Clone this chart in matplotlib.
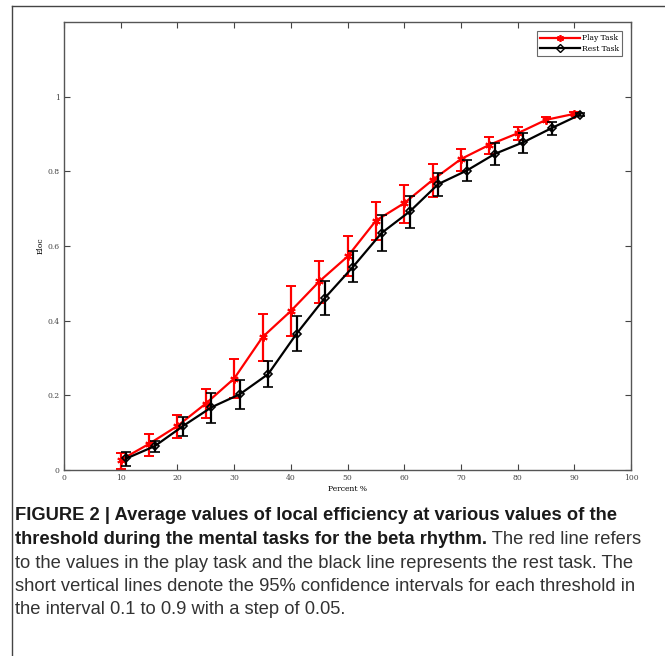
"""Local efficiency vs. threshold (beta rhythm), play vs. rest task."""

import matplotlib.pyplot as plt
from matplotlib.lines import Line2D

# Play task (red): thresholds in percent, mean Eloc and 95% CI bounds
play_x = [10, 15, 20, 25, 30, 35, 40, 45, 50, 55, 60, 65, 70, 75, 80, 85, 90]
play_y = [0.027, 0.070, 0.118, 0.178, 0.245, 0.356, 0.426, 0.505, 0.572,
          0.668, 0.715, 0.777, 0.833, 0.871, 0.902, 0.938, 0.954]
play_hi = [0.045, 0.096, 0.147, 0.218, 0.297, 0.417, 0.493, 0.560, 0.626,
           0.717, 0.764, 0.820, 0.860, 0.893, 0.920, 0.945, 0.958]
play_lo = [0.004, 0.038, 0.087, 0.138, 0.192, 0.292, 0.358, 0.448, 0.519,
           0.617, 0.662, 0.731, 0.802, 0.847, 0.884, 0.931, 0.950]

# Rest task (black), plotted slightly offset to the right
rest_x = [11, 16, 21, 26, 31, 36, 41, 46, 51, 56, 61, 66, 71, 76, 81, 86, 91]
rest_y = [0.031, 0.064, 0.118, 0.168, 0.203, 0.257, 0.365, 0.461, 0.545,
          0.635, 0.693, 0.766, 0.802, 0.847, 0.878, 0.916, 0.952]
rest_hi = [0.049, 0.078, 0.143, 0.207, 0.242, 0.291, 0.412, 0.506, 0.586,
           0.683, 0.735, 0.796, 0.829, 0.876, 0.903, 0.933, 0.957]
rest_lo = [0.012, 0.049, 0.091, 0.127, 0.163, 0.223, 0.319, 0.416, 0.504,
           0.586, 0.649, 0.733, 0.773, 0.816, 0.848, 0.898, 0.947]

x_ticks = list(range(0, 101, 10))
y_ticks = [0, 0.2, 0.4, 0.6, 0.8, 1]

caption_bold_1 = "FIGURE 2 | Average values of local efficiency at various values of the"
caption_bold_2 = "threshold during the mental tasks for the beta rhythm."
caption_rest_2 = " The red line refers"
caption_lines = [
    "to the values in the play task and the black line represents the rest task. The",
    "short vertical lines denote the 95% confidence intervals for each threshold in",
    "the interval 0.1 to 0.9 with a step of 0.05.",
]

ASTERISK = (6, 2, 0)
CAP_SIZE = 13.2


def errs(y, lo, hi):
    return [[a - b for a, b in zip(y, lo)], [c - a for a, c in zip(y, hi)]]


fig = plt.figure(figsize=(6.65, 6.56), dpi=100)
ax = fig.add_axes([0.0962, 0.2835, 0.853, 0.683])

ax.errorbar(play_x, play_y, yerr=errs(play_y, play_lo, play_hi),
            color="#ff0000", lw=1.6, elinewidth=1.6, capsize=3.4, capthick=1.6,
            marker=ASTERISK, markersize=6, mew=1.4, zorder=2)
ax.errorbar(rest_x, rest_y, yerr=errs(rest_y, rest_lo, rest_hi),
            color="black", lw=1.6, elinewidth=1.6, capsize=3.4, capthick=1.6,
            marker="D", markersize=4.5, mfc="none", mew=1.2, zorder=3)

ax.set_xlim(0, 100)
ax.set_ylim(0, 1.2)
ax.set_xticks(x_ticks)
ax.set_yticks(y_ticks)
ax.set_yticklabels([f"{v:g}" for v in y_ticks])
ax.tick_params(direction="in", length=4, width=0.8, colors="#444444",
               labelsize=5.5, top=True, right=True, pad=3)
for lab in ax.get_xticklabels() + ax.get_yticklabels():
    lab.set_family("DejaVu Serif")
for sp in ax.spines.values():
    sp.set_color("#555555")
    sp.set_linewidth(1.0)
ax.set_xlabel("Percent %", fontsize=5.5, family="DejaVu Serif", labelpad=2)
ax.set_ylabel("Eloc", fontsize=5.5, family="DejaVu Serif", labelpad=2)

handles = [
    Line2D([], [], color="#ff0000", lw=1.6, marker=ASTERISK, markersize=5, mew=1.2),
    Line2D([], [], color="black", lw=1.6, marker="D", markersize=4, mfc="none", mew=1.0),
]
leg = ax.legend(handles, ["Play Task", "Rest Task"], loc="upper right",
                handlelength=5.2, handletextpad=0.2,
                borderpad=0.4, labelspacing=0.3, fancybox=False,
                bbox_to_anchor=(0.99, 0.988),
                prop={"family": "DejaVu Serif", "size": 5.5})
leg.get_frame().set_edgecolor("#444444")
leg.get_frame().set_linewidth(0.8)

# frame around figure and caption
fig.add_artist(Line2D([12 / 665, 1.0], [1 - 6 / 656, 1 - 6 / 656],
                      color="#444444", lw=1.0, transform=fig.transFigure))
fig.add_artist(Line2D([12 / 665, 12 / 665], [1 - 6 / 656, 0.0],
                      color="#444444", lw=1.0, transform=fig.transFigure))

x0 = 15 / 665
line_y = [1 - py / 656 for py in (516, 539.5, 563, 586.5, 609.5)]
fig.text(x0, line_y[0], caption_bold_1, weight="bold", va="center",
         family="Liberation Sans", fontsize=CAP_SIZE, color="#1a1a1a")
t2 = fig.text(x0, line_y[1], caption_bold_2, weight="bold", va="center",
              family="Liberation Sans", fontsize=CAP_SIZE, color="#1a1a1a")
ax.annotate(caption_rest_2, xy=(1, 0.5), xycoords=t2, va="center", ha="left",
            color="#333333", family="Liberation Sans", fontsize=CAP_SIZE,
            annotation_clip=False)
for txt, yy in zip(caption_lines, line_y[2:]):
    fig.text(x0, yy, txt, va="center", color="#333333",
             family="Liberation Sans", fontsize=CAP_SIZE)

fig.savefig("out.png", dpi=100)
